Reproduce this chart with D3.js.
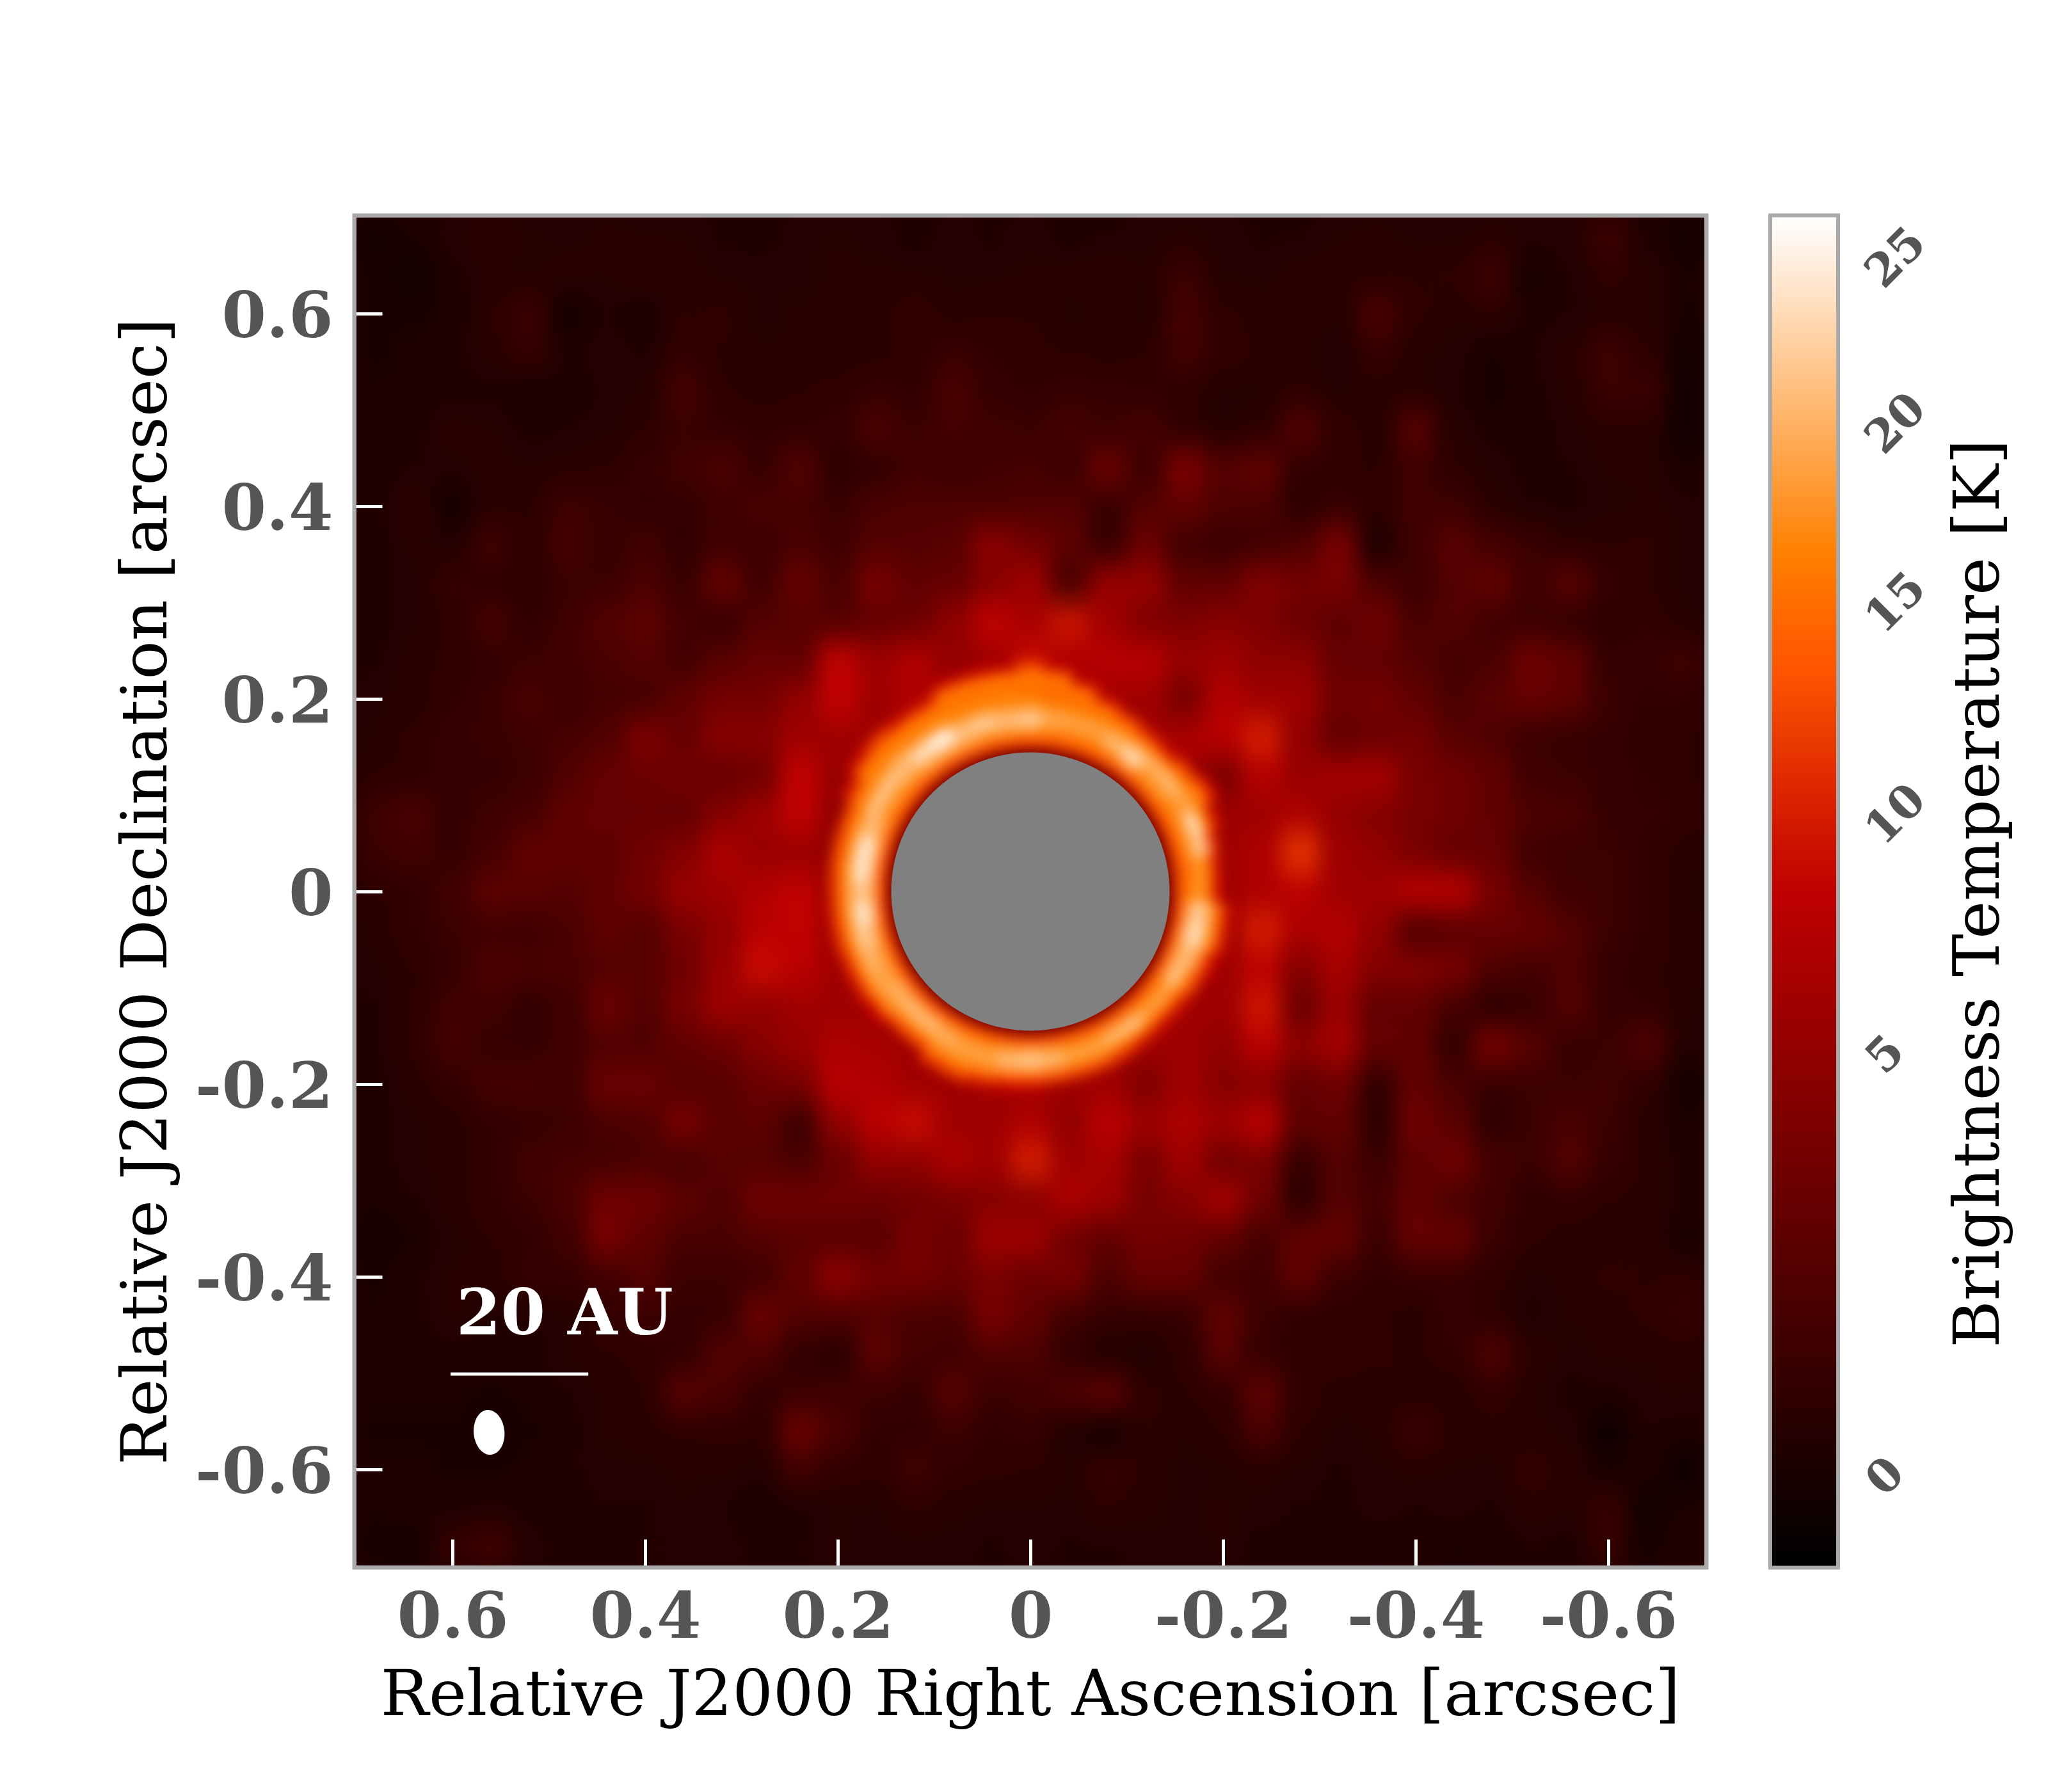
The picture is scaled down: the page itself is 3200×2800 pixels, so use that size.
<!DOCTYPE html>
<html>
<head>
<meta charset="utf-8">
<script src="https://cdn.jsdelivr.net/npm/d3@7"></script>
<style>
  body { margin: 0; background: #fff; }
  text { font-family: "DejaVu Serif", serif; }
</style>
</head>
<body>
<div id="chart"></div>
<script>
// Tick values and labels
var raTicks = [0.6, 0.4, 0.2, 0, -0.2, -0.4, -0.6];
var decTicks = [0.6, 0.4, 0.2, 0, -0.2, -0.4, -0.6];
var barTicks = [0, 5, 10, 15, 20, 25];

// colour stretch: kelvin -> position along the colormap
var stretchK = [-1, 0, 5, 10, 15, 20, 25, 26];
var stretchPos = [0, 0.067, 0.38, 0.558, 0.715, 0.848, 0.971, 1];

// annotation, in arcsec
var scaleBarRa = [0.602, 0.459];
var scaleBarDec = -0.501;
var scaleBarLabel = "20 AU";
var scaleLabelAt = [0.596, -0.4595];
var beamAt = [0.562, -0.5615];
var beamAxes = [0.016, 0.0233];
var holeRadius = 0.1445;

// brightness temperature [K], read by eye, cells 0.04 arcsec wide
// rows run from dec +0.68 to -0.68, columns from RA +0.68 to -0.68
// cells under the ring and the mask hold a plain 6
var cellSize = 0.04;
var gridK = [
[-.2,.2,.5,.9,.6,.5,.7,.6,.6,.4,.3,.5,.6,.5,.3,.5,.4,.5,.3,.4,.5,.6,.5,.4,.4,.6,.7,.5,.5,.7,.5,.5,1.5,.3,-.2],
[.1,-.3,.3,.6,.5,.7,.6,.9,.7,.5,.5,.5,.6,.6,.6,.5,.5,.6,.7,.8,.6,1.4,.5,.5,.7,.7,.7,.8,.9,1.5,0,.4,.9,.7,.2],
[.1,.1,.2,.8,1.4,-.1,.4,.1,.8,.9,.5,.6,.7,.7,1,.7,.8,.8,.5,.6,.5,1.8,.9,.7,.8,.6,2,.9,.6,.8,.3,.4,.6,.6,.1],
[.1,.2,.3,.7,1.2,.4,.5,.4,1,.8,.6,.6,.7,.7,.9,1.3,1,.9,.8,.7,.8,1.7,1,.8,.6,.4,1.2,.6,.5,.1,.4,.7,1.5,.8,-.1],
[.2,.2,.3,.3,.1,.3,.4,.6,1.8,.8,.7,.8,.9,1.2,1,2,1.2,1,1.2,1.2,1,.9,.5,.5,.8,.5,.6,.6,.4,0,.3,.6,1.4,1.4,-.3],
[.2,.3,.7,.6,.3,.4,.5,.8,1.3,1.1,1,1,1.2,2.1,1.4,1.8,1.5,1.4,1.8,1.4,1.8,.9,.5,.8,2.4,1,.6,2.6,.6,.3,.2,.5,.7,.7,-.3],
[.2,.4,.5,.7,.6,.7,.8,1.2,1.6,2.1,1.2,2.4,.8,1,1.6,1.4,1.7,1.8,1.4,3.4,1.4,4.2,2.5,3,1,.9,.8,1.5,.8,.5,.3,.4,.6,.6,.2],
[.3,.9,-.1,.7,.8,1.5,1.3,1,1.1,1.5,2,1.8,1.3,2,2.2,2.2,2,2.2,2.4,1.2,2.4,3,2.2,2,.8,1.2,.9,1.6,1.5,.7,.4,.3,.5,.6,.5],
[.3,.6,.5,1.6,.8,1.9,1.2,1.6,1,1.6,1.4,2,1.6,2.4,2.4,2.6,4.8,3.8,2.8,1.2,3.4,1.6,1.3,1.6,2.2,4,.2,1.6,2.6,1.8,1.4,.8,.8,.9,.5],
[.3,.5,1.2,.9,.8,1.3,1.4,2.1,1.3,3.2,1.6,3.2,2,4,3,3.2,4.5,6,1.8,5.5,5.5,3,3,4.4,3.8,4,2.2,1.4,2.4,3,1.5,2.6,1.2,.8,.5],
[.3,.5,.8,1.8,1,1.5,2.4,2.8,1.8,1.2,2.4,2.5,2.4,3,3.4,5,8.5,6.5,9.5,6,4.2,4.2,4.6,4.2,3.4,2.8,3.6,2,2.4,1.6,1.4,1,.8,1,.6],
[.4,.7,.9,1.1,1.4,1.7,2,2.4,1.7,2.6,3.2,3,8.5,6,7.5,5,6,9,7,8,8,5.5,6,4.8,4.8,3.2,3,2.4,1.8,2,3.6,3,1.2,1.2,1.6],
[.5,.7,1,1.3,2,1.4,1.8,1.8,3,3.8,3.8,5,8.5,6,7,6,6,6,6,6,6,3.8,7.5,6,6,3.6,3.8,3,2,2.6,3.2,2.8,1.4,1,1],
[.6,.9,1.2,1.3,1.5,1.9,2.3,4.2,3.2,4.6,4.6,6,6,6,6,6,6,6,6,6,6,7,8,10,5,3,3.4,3.8,2.6,2.2,1.4,1.2,1.2,.9,.9],
[.8,.9,1.2,1.2,1.4,2.3,3.2,3.4,3.8,3.2,3.6,8.5,5.5,6,6,6,6,6,6,6,6,6,4,7.5,5.5,6.5,6.5,4,3.6,3,1.6,1.4,1.2,1,.9],
[1.6,2,1.1,1.5,1.9,3,3.2,3.2,3,4.5,6,8.5,5,6,6,6,6,6,6,6,6,6,6,6,7,5,4.5,4,3.6,3,2.2,2,1.2,1.1,1],
[1.4,1.6,1.2,1.8,3,3,2.8,3.6,4.5,7,5.5,5.5,5,6,6,6,6,6,6,6,6,6,6,7,11.5,6,5,4,3.2,3.2,1.6,1.4,1.4,1,.7],
[.8,1,1.6,2.8,2.6,2.4,3,3.8,5.5,6,7.5,8.5,5.5,6,6,6,6,6,6,6,6,6,6,7,8,6,6,8,8,4,2.5,1.5,1.4,1,.6],
[.7,1,1.4,1.6,1.6,2,2.9,2.4,4,5,8,8.5,6,6,6,6,6,6,6,6,6,6,6,10,7,7.5,5,2.2,2.6,3.2,3.2,2.4,1.4,1,.7],
[.5,.8,1.2,2.2,2,2,2.4,2.6,3.6,5.5,9,8,6,6,6,6,6,6,6,6,6,6,6,8,4.5,6.5,4.5,4.5,4,2.2,1.8,2.2,1.2,.9,.7],
[.4,.8,1.6,1.6,1,1.5,3.4,2.4,4,6,5,6,6,6,6,6,6,6,6,6,6,6,6,9.5,3.4,5.5,3,3,1.8,.8,1.2,2.4,1.2,1,.6],
[.4,.9,1.8,1.2,1.2,1.6,2.2,2.2,3,3.4,4.6,5.5,7,6.5,6,6,6,6,6,6,6,6,5,8,5,6.5,3.2,3,1,4,2.6,1.2,1.4,2.3,.5],
[.3,.7,1,1.8,1.8,1.6,3.4,3.4,2.4,2.6,3.4,4,8,7.5,6,6,6,6,6,6,4.2,6,4.5,4.5,3,3.5,1,3,2,1.2,1.4,1.4,1.5,.9,-.1],
[.3,.5,.7,1,1.2,1.4,2,2.2,4,2.6,2.8,1.4,5,8,9,6,6,7,5,8,6,7,6,8,3,3,.8,3.6,2.6,.9,1.4,2,1.4,.7,.2],
[.3,.5,.7,1,1.6,1.8,1.8,2,1.8,2.6,2.4,2,3.2,5,5,7,6,10,6,6.5,4,6,3.6,4,1.2,2.4,1.4,2.8,3.6,1.8,1.4,2.4,1.2,.8,.3],
[.2,.4,.7,1,1.4,2,3.6,3.6,2.8,2.2,3.6,3.6,3.6,3.4,3.6,4,4.5,4.5,7,6,4,4.5,6.5,3.6,.8,2.4,1.8,3,2,1.6,.9,1,.8,.7,.4],
[-.1,.1,.5,.8,1,1.6,4,2.8,2,2,2.4,2.6,2.6,2.6,4,3.4,6,6,3.6,3,3.8,3.6,3,1.8,3,3.2,1.4,3.2,3.2,1.4,.9,.7,.7,.8,0],
[.1,.4,.6,.7,1.2,1.2,1.6,2.4,1.4,1.4,1.6,3,5,3.8,3.8,3.4,4,3.4,4,2.2,3.2,3.2,1.6,1.6,3,1.4,1,1.2,1.2,.9,.5,.6,.9,.8,.9],
[.2,.3,.6,.4,.4,.5,1,1.4,1.2,1.2,3.4,2.4,2.2,2.4,2,2,4,3,1.6,1.2,1,1.2,3,1.4,.9,.9,.8,.7,1.2,.8,.3,.6,.7,.9,1.2],
[.2,.3,.3,.3,.3,.6,.8,.9,1,2.4,2.2,1,.7,2.8,1.8,1.6,2.2,2.2,1,.4,.4,.9,2.6,1.2,.9,1,.9,.8,1,2.2,.8,.5,.6,.6,.7],
[.2,.2,.2,.1,.2,.4,.6,.8,2.6,2,1,1.4,1.6,1.4,1.2,2.6,1.4,1.6,2.2,2.8,.9,.8,1,2.8,1,.7,.7,.6,.6,1,.6,.3,.4,.5,.6],
[.1,.1,.1,-.1,.1,.3,.6,.7,.8,.9,.9,3.4,2,1,1,1.4,1,1.2,.4,-.1,.8,.6,.8,2,.8,.5,.6,1.4,.8,.7,.6,.5,-.5,.4,.3],
[.2,.2,.1,.1,.2,.4,.5,.5,.6,.6,.5,1.6,1,.9,1.6,1,.9,.8,.6,1.2,.8,.5,.5,.6,.5,.4,.5,.6,.5,.5,1,.7,.1,.3,-.5],
[.2,.3,.3,.4,.3,.2,.4,.4,.5,.4,.1,.3,.5,.5,.8,.6,.5,.5,.5,.8,.6,.5,.6,.5,.4,.3,.5,.4,.5,.4,.7,.6,1.2,-.3,.2],
[0,-.1,1.2,1.7,.5,.3,.3,.4,.5,.5,.4,.4,.6,.5,.5,.5,.4,.5,.4,.4,.5,.5,.6,.3,.3,.3,.2,.3,.1,.2,.4,.3,1.2,0,.4]
];

// the bright ring has finer structure, so it is read on a polar table
// rows: position angle every 7.5 deg clockwise from north, columns: ringRadii
// null: past the ring edge, the map shows through
var ringRadii = [0.145, 0.155, 0.165, 0.175, 0.185, 0.195, 0.205, 0.215, 0.225, 0.235];
var ringStep = 7.5;
var ringK = [
[4,13,17,22,21,17,15.5,15.5,15.5,12],
[4,13,16,19,19,16,15,15,15,8.5],
[4,13,16,18.5,18.5,16,15,15,8.5,null],
[4,13,16,18.5,18.5,16,15,9,null,null],
[4,13,17,21,19,16,12.5,null,null,null],
[4,13,19,24,20,15.5,10,null,null,null],
[4,13,17,19,20,15,9,null,null,null],
[4,13,17,19,21,16,12,null,null,null],
[4,13,16,18,19,17,14.5,9,null,null],
[4,13,16,20,24,16,9.5,null,null,null],
[4,13,16,20,22,12,null,null,null,null],
[4,13,15,18,16,9.5,null,null,null,null],
[4,13,16,18,15.5,9,null,null,null,null],
[4,13,19,23,20,15.5,9.5,null,null,null],
[4,13,20,24,21,16,10,null,null,null],
[4,13,19,21,19,12.5,8,null,null,null],
[4,13,19,22,17,12,null,null,null,null],
[4,13,17,19,15.5,9.5,null,null,null,null],
[4,13,17,19,15,9,null,null,null,null],
[4,13,18,22,16,9.5,null,null,null,null],
[4,13,18,21,16,11,null,null,null,null],
[4,13,17,19,17,12,null,null,null,null],
[4,13,17,19,17,12,null,null,null,null],
[4,13,18,21,18,12.5,null,null,null,null],
[4,13,19,22,19,13,8,null,null,null],
[4,13,18,21,19,13.5,8.5,null,null,null],
[4,13,17,19,18,15,9.5,null,null,null],
[4,13,17,19,18,16,12,null,null,null],
[4,13,18,20,18,15.5,11,null,null,null],
[4,13,19,21,17,12.5,null,null,null,null],
[4,13,19,21,17,12.5,null,null,null,null],
[4,13,19,20,18,14.5,8.5,null,null,null],
[4,13,18,19,19,15.5,9.5,null,null,null],
[4,13,18,20,20,15.5,10,null,null,null],
[4,13,19,22,21,16,11,null,null,null],
[4,13,21,25,21,16,11,null,null,null],
[4,13,20,22,20,16,11,null,null,null],
[4,13,20,25,22,16,12,null,null,null],
[4,13,20,25,22,16,12.5,null,null,null],
[4,13,18,21,20,16.5,12.5,null,null,null],
[4,13,17,19,22,17,15,9.5,null,null],
[4,13,17,19,22,18,16,15,9,null],
[4,13,17,20,21,19,16,15,11,null],
[4,13,18,22,24,18,16,15,9,null],
[4,13,18,23,26,18,16,15,9,null],
[4,13,18,21,21,17,16,15.5,14.5,8],
[4,13,17,21,22,17,16,15.5,14.5,8],
[4,13,17,21,20,17,16,15.5,14.5,8]
];

const width = 3200, height = 2800;
const box = { left: 556.5, right: 2663.5, top: 339.5, bottom: 2446.5 };
const bar = { left: 2769, right: 2869 };

const x = d3.scaleLinear().domain([0.7, -0.7]).range([box.left, box.right]);
const y = d3.scaleLinear().domain([0.7, -0.7]).range([box.top, box.bottom]);
const pxPerArcsec = (box.right - box.left) / 1.4;

const stretch = d3.scaleLinear().domain(stretchK).range(stretchPos).clamp(true);
const barY = d3.scaleLinear().domain([0, 1]).range([box.bottom, box.top]);

// gist_heat
function heat(t) {
    const c = v => Math.round(255 * Math.max(0, Math.min(1, v)));
    return `rgb(${c(1.5 * t)},${c(2 * t - 1)},${c(4 * t - 3)})`;
}
const colorK = k => heat(stretch(k));

const svg = d3.select("#chart").append("svg")
    .attr("width", width).attr("height", height)
    .style("display", "block");

const defs = svg.append("defs");
defs.append("clipPath").attr("id", "plotClip").append("rect")
    .attr("x", box.left).attr("y", box.top)
    .attr("width", box.right - box.left).attr("height", box.bottom - box.top);

function addBlur(id, sd) {
    defs.append("filter").attr("id", id)
        .attr("filterUnits", "userSpaceOnUse")
        .attr("x", 0).attr("y", 0).attr("width", width).attr("height", height)
        .attr("color-interpolation-filters", "sRGB")
        .append("feGaussianBlur").attr("stdDeviation", sd);
}
addBlur("gridBlur", "16 24");
addBlur("ringBlur", 10);

const plot = svg.append("g").attr("clip-path", "url(#plotClip)");
plot.append("rect")
    .attr("x", box.left).attr("y", box.top)
    .attr("width", box.right - box.left).attr("height", box.bottom - box.top)
    .attr("fill", colorK(0.4));

// map cells
const cells = [];
gridK.forEach((row, r) => row.forEach((k, c) => {
    cells.push({ ra: 0.68 - c * cellSize, dec: 0.68 - r * cellSize, k: k });
}));
plot.append("g").attr("filter", "url(#gridBlur)")
    .selectAll("rect").data(cells).enter().append("rect")
    .attr("x", d => x(d.ra + cellSize / 2))
    .attr("y", d => y(d.dec + cellSize / 2))
    .attr("width", cellSize * pxPerArcsec + 1)
    .attr("height", cellSize * pxPerArcsec + 1)
    .attr("fill", d => colorK(d.k));

// ring cells
const ringCells = [];
ringK.forEach((row, a) => row.forEach((k, j) => {
    if (k !== null) ringCells.push({ a: a * ringStep, r: ringRadii[j], first: j === 0, k: k });
}));
const arc = d3.arc()
    .innerRadius(d => (d.first ? 0.125 : d.r - 0.005) * pxPerArcsec)
    .outerRadius(d => (d.r + 0.005) * pxPerArcsec + 0.5)
    .startAngle(d => (d.a - ringStep / 2 - 0.2) * Math.PI / 180)
    .endAngle(d => (d.a + ringStep / 2 + 0.2) * Math.PI / 180);
plot.append("g").attr("filter", "url(#ringBlur)")
    .append("g").attr("transform", `translate(${x(0)},${y(0)})`)
    .selectAll("path").data(ringCells).enter().append("path")
    .attr("d", arc)
    .attr("fill", d => colorK(d.k));

// masked star
plot.append("circle")
    .attr("cx", x(0)).attr("cy", y(0))
    .attr("r", holeRadius * pxPerArcsec)
    .attr("fill", "#808080");

// scale bar and beam
plot.append("line")
    .attr("x1", x(scaleBarRa[0])).attr("x2", x(scaleBarRa[1]))
    .attr("y1", y(scaleBarDec)).attr("y2", y(scaleBarDec))
    .attr("stroke", "#fff").attr("stroke-width", 5);
plot.append("text")
    .attr("x", x(scaleLabelAt[0])).attr("y", y(scaleLabelAt[1]))
    .attr("fill", "#fff").attr("font-size", 100).attr("font-weight", "bold")
    .text(scaleBarLabel);
plot.append("ellipse")
    .attr("rx", beamAxes[0] * pxPerArcsec).attr("ry", beamAxes[1] * pxPerArcsec)
    .attr("transform", `translate(${x(beamAt[0])},${y(beamAt[1])}) rotate(-5)`)
    .attr("fill", "#fff");

// axes
const tickText = d => d === 0 ? "0" : d.toFixed(1);
function styleAxis(g) {
    g.select(".domain").remove();
    g.selectAll(".tick line").attr("stroke", "#fff").attr("stroke-width", 5);
    g.selectAll(".tick text")
        .attr("fill", "#555555")
        .attr("font-size", 100).attr("font-weight", "bold")
        .attr("font-family", '"DejaVu Serif", serif');
}
svg.append("g")
    .attr("transform", `translate(0,${box.bottom})`)
    .call(d3.axisBottom(x).tickValues(raTicks).tickFormat(tickText).tickSize(-41).tickPadding(41))
    .call(styleAxis);
svg.append("g")
    .attr("transform", `translate(${box.left},0)`)
    .call(d3.axisLeft(y).tickValues(decTicks).tickFormat(tickText).tickSize(-41).tickPadding(36))
    .call(styleAxis)
    .selectAll(".tick text").attr("dy", "0.36em");

// frames
function frame(x0, x1) {
    svg.append("rect")
        .attr("x", x0 - 3).attr("y", box.top - 3)
        .attr("width", x1 - x0 + 6).attr("height", box.bottom - box.top + 6)
        .attr("fill", "none").attr("stroke", "#aaaaaa").attr("stroke-width", 6);
}

// colour bar
svg.append("g").selectAll("rect")
    .data(d3.range(0, 1, 0.002)).enter().append("rect")
    .attr("x", bar.left).attr("width", bar.right - bar.left)
    .attr("y", d => barY(d + 0.002))
    .attr("height", (box.bottom - box.top) * 0.002 + 1)
    .attr("fill", d => heat(d + 0.001));
frame(box.left, box.right);
frame(bar.left, bar.right);

svg.append("g").selectAll("text")
    .data(barTicks).enter().append("text")
    .attr("transform", d => `translate(${d < 10 ? 2944 : 2960},${barY(stretch(d))}) rotate(-45)`)
    .attr("text-anchor", "middle").attr("dy", "0.36em")
    .attr("fill", "#555555").attr("font-size", 71).attr("font-weight", "bold")
    .text(d => d);

// axis titles
svg.append("text")
    .attr("x", x(0)).attr("y", 2680)
    .attr("text-anchor", "middle").attr("font-size", 100)
    .text("Relative J2000 Right Ascension [arcsec]");
svg.append("text")
    .attr("transform", `translate(260,${y(0)}) rotate(-90)`)
    .attr("text-anchor", "middle").attr("font-size", 100)
    .text("Relative J2000 Declination [arcsec]");
svg.append("text")
    .attr("transform", `translate(3123,1396) rotate(-90)`)
    .attr("text-anchor", "middle").attr("font-size", 100)
    .text("Brightness Temperature [K]");
</script>
</body>
</html>
